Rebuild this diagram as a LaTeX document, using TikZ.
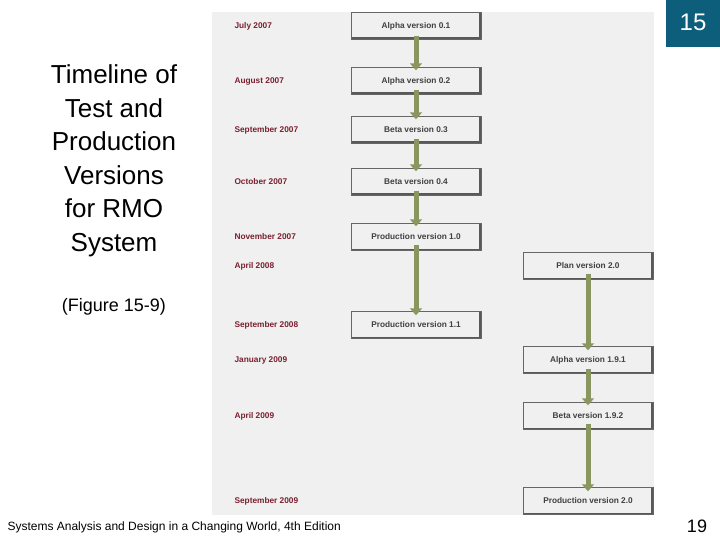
\documentclass[tikz,border=0pt]{standalone}
\usepackage{fontspec}
\setmainfont{Liberation Sans}
\usetikzlibrary{arrows.meta}
\definecolor{datered}{HTML}{7A2030}
\definecolor{olive}{HTML}{8A9660}
\definecolor{teal}{HTML}{0D5E7A}
\definecolor{panel}{HTML}{F0F0F0}
\begin{document}
\begin{tikzpicture}[x=1pt,y=-1pt,
  ver/.style={draw=black!60,fill=panel,minimum width=130pt,minimum height=27pt,inner sep=0pt,font=\fontsize{8.3}{10}\selectfont\bfseries\color{black!75},
    path picture={\draw[black!65,line width=2pt] ([xshift=-1pt]path picture bounding box.north east) -- ([xshift=-1pt,yshift=1pt]path picture bounding box.south east) -- ([yshift=1pt]path picture bounding box.south west);}},
  date/.style={anchor=west,font=\fontsize{8.3}{10}\selectfont\bfseries,text=datered},
  flow/.style={draw=olive,line width=5pt,-{Triangle[width=12pt,length=7pt]}}]
\useasboundingbox (0,0) rectangle (720,540);
\fill[panel] (212,12) rectangle (654,515);
\fill[teal] (666,0) rectangle (720,47);
\node[text=white,font=\fontsize{24}{26}\selectfont] (pg) at (693,22) {15};
\node[align=center,font=\fontsize{26}{33.5}\selectfont] (title) at (114,161) {Timeline of\\Test and\\Production\\Versions\\for RMO\\System};
\node[font=\fontsize{18}{20}\selectfont] (fig) at (114,307) {(Figure 15-9)};
\node[anchor=west,font=\fontsize{12}{14}\selectfont] (foot) at (4,527) {Systems Analysis and Design in a Changing World, 4th Edition};
\node[font=\fontsize{18}{20}\selectfont] (num) at (697,526) {19};
% dates
\node[date] (d1) at (231,26) {July 2007};
\node[date] (d2) at (231,81) {August 2007};
\node[date] (d3) at (231,130) {September 2007};
\node[date] (d4) at (231,182) {October 2007};
\node[date] (d5) at (231,237) {November 2007};
\node[date] (d6) at (231,266) {April 2008};
\node[date] (d7) at (231,325) {September 2008};
\node[date] (d8) at (231,360) {January 2009};
\node[date] (d9) at (231,416) {April 2009};
\node[date] (d10) at (231,501) {September 2009};
% boxes
\node[ver] (a1) at (416,26) {Alpha version 0.1};
\node[ver] (a2) at (416,81) {Alpha version 0.2};
\node[ver] (b3) at (416,130) {Beta version 0.3};
\node[ver] (b4) at (416,182) {Beta version 0.4};
\node[ver] (p10) at (416,237) {Production version 1.0};
\node[ver] (p11) at (416,325) {Production version 1.1};
\node[ver] (pl) at (588,266) {Plan version 2.0};
\node[ver] (a191) at (588,360) {Alpha version 1.9.1};
\node[ver] (b192) at (588,416) {Beta version 1.9.2};
\node[ver] (p20) at (588,501) {Production version 2.0};
% arrows
\draw[flow] ([yshift=4pt]a1.south) -- ([yshift=-3pt]a2.north);
\draw[flow] ([yshift=5pt]a2.south) -- ([yshift=-3pt]b3.north);
\draw[flow] ([yshift=5pt]b3.south) -- ([yshift=-3pt]b4.north);
\draw[flow] ([yshift=5pt]b4.south) -- ([yshift=-3pt]p10.north);
\draw[flow] ([yshift=6pt]p10.south) -- ([yshift=-4pt]p11.north);
\draw[flow] ([yshift=6pt]pl.south) -- ([yshift=-4pt]a191.north);
\draw[flow] ([yshift=5pt]a191.south) -- ([yshift=-3pt]b192.north);
\draw[flow] ([yshift=6pt]b192.south) -- ([yshift=-4pt]p20.north);
\end{tikzpicture}
\end{document}
